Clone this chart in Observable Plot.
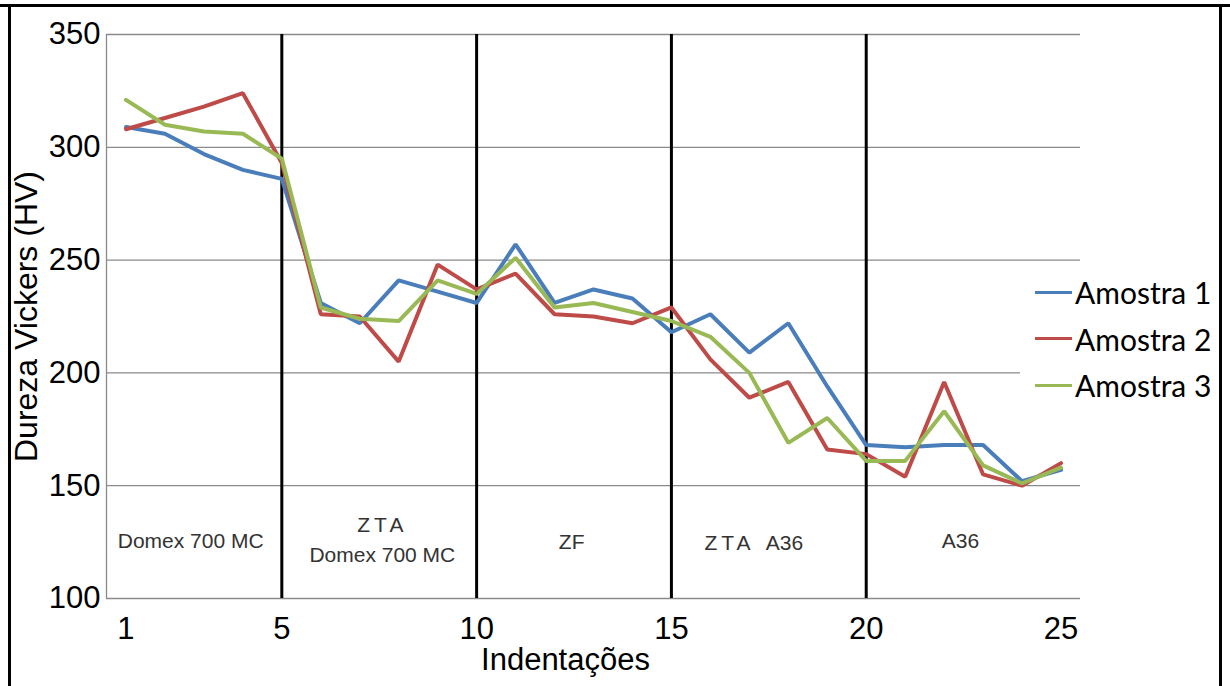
<!DOCTYPE html>
<html>
<head>
<meta charset="utf-8">
<script src="https://cdn.jsdelivr.net/npm/d3@7"></script>
<script src="https://cdn.jsdelivr.net/npm/@observablehq/plot@0.6"></script>
<style>
  html, body { margin: 0; padding: 0; background: #fff; }
  #wrap { position: relative; width: 1230px; height: 686px; overflow: hidden; background: #fff; }
  #chart { position: absolute; left: 0; top: 0; }
  .topline { position: absolute; left: 0; top: 4px; width: 1230px; height: 3px; background: #000; }
  .leftline { position: absolute; left: 8px; top: 4px; width: 3px; height: 700px; background: #000; }
  .rightline { position: absolute; left: 1219px; top: 4px; width: 3px; height: 700px; background: #000; }
  #legend { position: absolute; left: 1020px; top: 268px; width: 198px; height: 150px; background: #fff;
            font-family: Lato, "Open Sans", sans-serif; font-size: 30px; color: #000; }
  .item { position: absolute; left: 15px; height: 32px; display: flex; align-items: center; }
  .swatch { width: 37px; height: 3px; margin-right: 3px; }
</style>
</head>
<body>
<div id="wrap">
  <div id="chart"></div>
  <div id="legend"></div>
  <div class="topline"></div>
  <div class="leftline"></div>
  <div class="rightline"></div>
</div>
<script>
const indentacoes = [1,2,3,4,5,6,7,8,9,10,11,12,13,14,15,16,17,18,19,20,21,22,23,24,25];
const seriesNames = ["Amostra 1", "Amostra 2", "Amostra 3"];
const amostra1 = [309, 306, 297, 290, 286, 231, 222, 241, 236, 231, 257, 231, 237, 233, 218, 226, 209, 222, 194, 168, 167, 168, 168, 152, 157];
const amostra2 = [308, 313, 318, 324, 293, 226, 225, 205, 248, 237, 244, 226, 225, 222, 229, 206, 189, 196, 166, 164, 154, 196, 155, 150, 160];
const amostra3 = [321, 310, 307, 306, 295, 229, 224, 223, 241, 235, 251, 229, 231, 227, 223, 216, 200, 169, 180, 161, 161, 183, 159, 151, 158];
const xTicks = [1, 5, 10, 15, 20, 25];
const yTicks = [100, 150, 200, 250, 300, 350];
const zoneBounds = [5, 10, 15, 20];
const zoneLabels = ["Domex 700 MC", "ZTA", "Domex 700 MC", "ZF", "ZTA", "A36", "A36"];
const zoneLabelX = [2.66, 7.58, 7.58, 12.44, 16.49, 17.9, 22.42];
const zoneLabelY = [125.3, 132.4, 119, 124.8, 124.4, 124.4, 125.3];
const colors = ["#4A7EBB", "#BE4B48", "#98B954"];

const allSeries = [amostra1, amostra2, amostra3];
const data = allSeries.flatMap((vals, s) => vals.map((v, i) => ({x: indentacoes[i], y: v, serie: seriesNames[s]})));
const annotations = zoneLabels.map((t, i) => ({text: t, x: zoneLabelX[i], y: zoneLabelY[i]}));

const font = "'Liberation Sans', Arial, sans-serif";
const chart = Plot.plot({
  width: 1230, height: 686,
  marginLeft: 106, marginRight: 150, marginTop: 34, marginBottom: 88,
  x: {domain: [0.5, 25.5]},
  y: {domain: [100, 350]},
  color: {domain: seriesNames, range: colors},
  style: {fontFamily: font, background: "transparent", color: "#000"},
  marks: [
    Plot.gridY(yTicks, {stroke: "#8a8a8a", strokeOpacity: 1, strokeWidth: 1.3}),
    Plot.ruleX([0.5], {stroke: "#8a8a8a", strokeWidth: 1.3}),
    Plot.ruleX(zoneBounds, {stroke: "#000", strokeWidth: 3}),
    Plot.lineY(data, {x: "x", y: "y", z: "serie", stroke: "serie", strokeWidth: 4, strokeLinejoin: "miter"}),
    Plot.axisX({ticks: xTicks, tickSize: 0, tickPadding: 18, fontSize: 31, label: null}),
    Plot.axisY({ticks: yTicks, tickSize: 0, tickPadding: 6, fontSize: 31, label: null}),
    Plot.text(annotations, {x: "x", y: "y", text: "text", fontSize: 21, fill: "#333"}),
    Plot.text(["Indentações"], {frameAnchor: "bottom", textAnchor: "middle", lineAnchor: "middle", dx: -28, dy: 62, fontSize: 31, fill: "#000"}),
    Plot.text(["Dureza Vickers (HV)"], {frameAnchor: "left", textAnchor: "middle", lineAnchor: "middle", rotate: -90, dx: -80, fontSize: 32, fill: "#000"})
  ]
});
document.getElementById("chart").appendChild(chart);
d3.select(chart).selectAll("text").filter(function() { return this.textContent === "ZTA"; })
  .attr("letter-spacing", "4px");

const legend = d3.select("#legend");
seriesNames.forEach((name, i) => {
  const it = legend.append("div").attr("class", "item").style("top", (8 + i * 46.5) + "px");
  it.append("div").attr("class", "swatch").style("background", colors[i]);
  it.append("span").text(name);
});
</script>
</body>
</html>
